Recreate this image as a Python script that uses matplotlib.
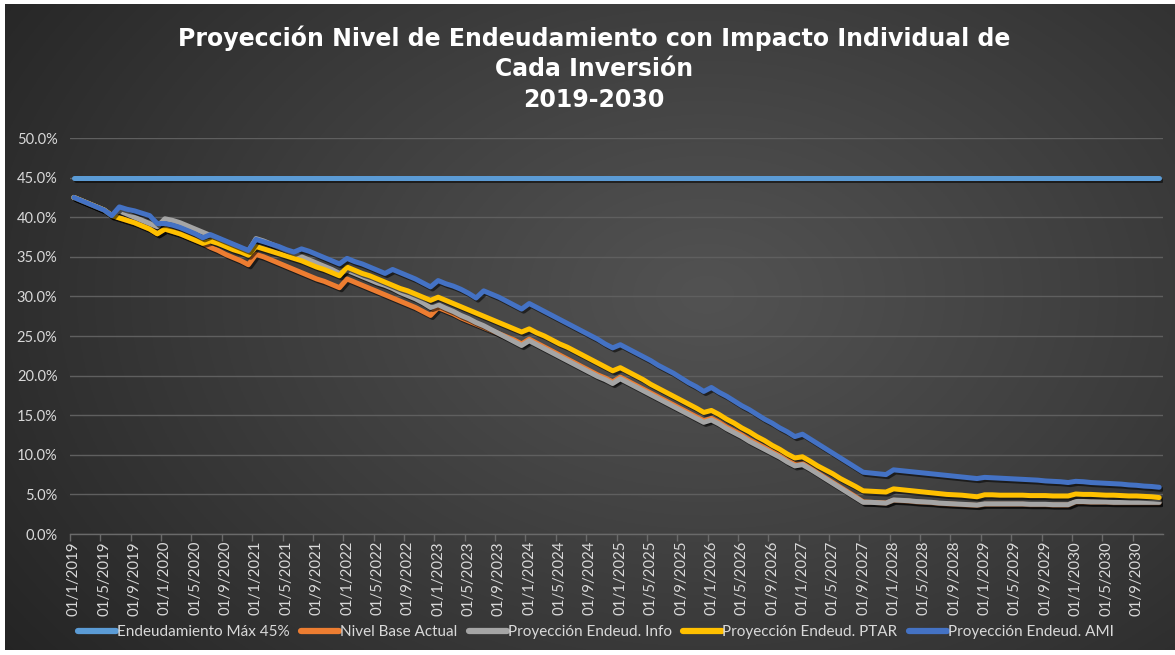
import numpy as np
import matplotlib
matplotlib.use("Agg")
import matplotlib.pyplot as plt
import matplotlib.patheffects as pe
from matplotlib.ticker import FuncFormatter, FixedLocator

# ---------------- data ----------------
years = list(range(2019, 2031))
months = list(range(1, 13))
fechas = [f"01/{m}/{y}" for y in years for m in months]

maximo = [45.0] * 144

nivel_base = [
    42.5, 42.1, 41.7, 41.3, 40.9, 40.2, 39.9, 39.6, 39.3, 38.9, 38.5, 37.9,
    38.5, 38.2, 37.9, 37.5, 37.1, 36.7, 36.2, 35.8, 35.3, 34.9, 34.5, 34.0,
    35.3, 35.0, 34.6, 34.2, 33.8, 33.4, 33.0, 32.6, 32.2, 31.9, 31.5, 31.1,
    32.2, 31.8, 31.4, 31.0, 30.6, 30.2, 29.8, 29.4, 29.0, 28.6, 28.1, 27.6,
    28.6, 28.2, 27.8, 27.3, 26.9, 26.5, 26.1, 25.7, 25.3, 24.9, 24.5, 24.0,
    24.6, 24.1, 23.6, 23.1, 22.6, 22.1, 21.6, 21.1, 20.6, 20.1, 19.7, 19.2,
    19.8, 19.3, 18.8, 18.3, 17.8, 17.3, 16.8, 16.3, 15.8, 15.3, 14.8, 14.3,
    14.6, 14.1, 13.5, 13.0, 12.5, 11.9, 11.4, 10.9, 10.4, 9.9, 9.3, 8.8,
    8.9, 8.3, 7.7, 7.1, 6.5, 5.9, 5.3, 4.7, 4.05, 4.0, 3.95, 3.9,
    4.25, 4.2, 4.15, 4.05, 4.0, 3.95, 3.85, 3.8, 3.75, 3.7, 3.65, 3.6,
    3.75, 3.75, 3.75, 3.75, 3.75, 3.75, 3.7, 3.7, 3.7, 3.65, 3.65, 3.65,
    4.05, 4.05, 4.0, 4.0, 4.0, 3.95, 3.95, 3.95, 3.95, 3.95, 3.95, 3.95,
]

info = [
    42.5, 42.1, 41.7, 41.3, 40.9, 40.2, 40.8, 40.4, 40.0, 39.6, 39.2, 38.8,
    39.8, 39.6, 39.3, 38.9, 38.5, 38.1, 37.7, 37.3, 36.9, 36.5, 36.1, 35.7,
    37.3, 37.0, 36.6, 36.2, 35.8, 35.4, 35.0, 34.6, 34.2, 33.8, 33.4, 32.9,
    33.3, 32.9, 32.5, 32.1, 31.7, 31.4, 31.0, 30.5, 30.1, 29.7, 29.2, 28.6,
    28.95, 28.5, 28.1, 27.6, 27.2, 26.7, 26.3, 25.8, 25.3, 24.8, 24.3, 23.8,
    24.4, 23.9, 23.4, 22.9, 22.4, 21.9, 21.4, 20.9, 20.4, 19.9, 19.5, 19.0,
    19.6, 19.1, 18.6, 18.1, 17.6, 17.1, 16.6, 16.1, 15.6, 15.1, 14.6, 14.1,
    14.4, 13.9, 13.3, 12.8, 12.3, 11.7, 11.2, 10.7, 10.2, 9.7, 9.1, 8.6,
    8.75, 8.2, 7.6, 7.0, 6.4, 5.8, 5.2, 4.6, 4.0, 4.0, 3.95, 3.9,
    4.3, 4.25, 4.2, 4.1, 4.05, 4.0, 3.9, 3.85, 3.8, 3.75, 3.7, 3.65,
    3.8, 3.8, 3.8, 3.8, 3.8, 3.8, 3.75, 3.75, 3.75, 3.7, 3.7, 3.7,
    4.1, 4.1, 4.05, 4.05, 4.05, 4.0, 4.0, 4.0, 4.0, 4.0, 4.0, 4.0,
]

ptar = [
    42.5, 42.1, 41.7, 41.3, 40.9, 40.2, 39.9, 39.6, 39.3, 38.9, 38.5, 37.9,
    38.5, 38.2, 37.9, 37.5, 37.1, 36.7, 37.0, 36.7, 36.3, 35.9, 35.6, 35.2,
    36.3, 36.0, 35.7, 35.4, 35.1, 34.8, 34.5, 34.1, 33.7, 33.4, 33.0, 32.6,
    33.7, 33.3, 32.9, 32.6, 32.2, 31.8, 31.4, 31.0, 30.7, 30.3, 29.9, 29.5,
    29.9, 29.5, 29.1, 28.7, 28.3, 27.9, 27.5, 27.1, 26.7, 26.3, 25.9, 25.5,
    25.9, 25.4, 25.0, 24.5, 24.0, 23.6, 23.1, 22.6, 22.1, 21.6, 21.1, 20.6,
    21.0, 20.5, 20.0, 19.5, 18.9, 18.4, 17.9, 17.4, 16.9, 16.4, 15.9, 15.35,
    15.6, 15.1, 14.5, 14.0, 13.4, 12.9, 12.3, 11.8, 11.2, 10.7, 10.1, 9.6,
    9.75, 9.2, 8.6, 8.1, 7.6, 7.0, 6.5, 6.0, 5.45, 5.4, 5.35, 5.3,
    5.7, 5.6, 5.5, 5.4, 5.3, 5.2, 5.1, 5.0, 4.95, 4.9, 4.8, 4.7,
    4.95, 4.95, 4.9, 4.9, 4.9, 4.9, 4.85, 4.85, 4.85, 4.8, 4.8, 4.8,
    5.05, 5.0, 5.0, 4.95, 4.9, 4.9, 4.85, 4.8, 4.8, 4.75, 4.7, 4.6,
]

ami = [
    42.5, 42.1, 41.7, 41.3, 40.9, 40.2, 41.3, 41.0, 40.8, 40.5, 40.2, 39.2,
    39.2, 39.0, 38.7, 38.3, 37.9, 37.4, 37.8, 37.4, 37.0, 36.6, 36.2, 35.8,
    37.2, 36.9, 36.6, 36.3, 35.9, 35.6, 36.0, 35.7, 35.3, 34.9, 34.5, 34.1,
    34.8, 34.4, 34.1, 33.7, 33.3, 32.9, 33.4, 33.0, 32.6, 32.2, 31.7, 31.2,
    32.0, 31.6, 31.3, 30.9, 30.4, 29.8, 30.7, 30.3, 29.9, 29.4, 28.9, 28.4,
    29.1, 28.6, 28.1, 27.6, 27.1, 26.6, 26.1, 25.6, 25.1, 24.6, 24.0, 23.5,
    23.9, 23.4, 22.9, 22.4, 21.9, 21.3, 20.8, 20.3, 19.7, 19.1, 18.6, 18.0,
    18.5, 17.9, 17.4, 16.8, 16.2, 15.7, 15.1, 14.5, 14.0, 13.4, 12.9, 12.3,
    12.6, 12.0, 11.4, 10.8, 10.2, 9.6, 9.0, 8.4, 7.8, 7.7, 7.6, 7.5,
    8.1, 8.0, 7.9, 7.8, 7.7, 7.6, 7.5, 7.4, 7.3, 7.2, 7.1, 7.0,
    7.15, 7.1, 7.05, 7.0, 6.95, 6.9, 6.85, 6.8, 6.7, 6.65, 6.6, 6.5,
    6.65, 6.6, 6.5, 6.45, 6.4, 6.35, 6.3, 6.2, 6.15, 6.05, 6.0, 5.9,
]

series_names = ["Endeudamiento Máx 45%", "Nivel Base Actual", "Proyección Endeud. Info",
                "Proyección Endeud. PTAR", "Proyección Endeud. AMI"]
series_colors = ["#5B9BD5", "#ED7D31", "#A5A5A5", "#FFC000", "#4472C4"]
series_values = [maximo, nivel_base, info, ptar, ami]

title_lines = ["Proyección Nivel de Endeudamiento con Impacto Individual de",
               "Cada Inversión", "2019-2030"]
y_ticks = [0, 5, 10, 15, 20, 25, 30, 35, 40, 45, 50]

# ---------------- figure ----------------
plt.rcParams['font.family'] = ['Lato', 'DejaVu Sans']
W, H = 1175, 655
fig = plt.figure(figsize=(W / 100, H / 100), dpi=100)
fig.patch.set_facecolor('white')

# radial gradient background (inside a thin white frame)
L, B, T, R = 5, 5, 4, 0
bg = fig.add_axes([L / W, B / H, (W - L - R) / W, (H - B - T) / H], zorder=-10)
gx = np.linspace(0, 1, 600)
gy = np.linspace(0, 1, 340)
GX, GY = np.meshgrid(gx, gy)
d = np.sqrt(((GX - 0.60) / 0.75) ** 2 + ((GY - 0.45) / 0.95) ** 2)
d = np.clip(d, 0, 1)
light = 0x52 / 255
dark = 0x24 / 255
val = light - (light - dark) * d ** 1.1
img = np.dstack([val, val, val])
bg.imshow(img, extent=[0, 1, 0, 1], aspect='auto', origin='upper')
bg.set_xlim(0, 1)
bg.set_ylim(0, 1)
bg.axis('off')

ax = fig.add_axes([70 / W, 1 - 534 / H, (1163 - 70) / W, (534 - 138) / H])
ax.set_facecolor('none')

x = np.arange(len(fechas))
shadow = [pe.SimpleLineShadow(offset=(1.5, -1.5), shadow_color='black', alpha=0.55),
          pe.Normal()]
for name, col, vals in zip(series_names, series_colors, series_values):
    ax.plot(x, vals, color=col, lw=3.6, label=name, solid_capstyle='round',
            solid_joinstyle='round', path_effects=shadow, zorder=3)

ax.set_xlim(-0.5, len(fechas) - 0.5)
ax.set_ylim(0, 50)
ax.set_yticks(y_ticks)
ax.yaxis.set_major_formatter(FuncFormatter(lambda v, p: f"{v:.1f}%"))
ax.grid(axis='y', color='#5f5f5f', lw=1.0, zorder=0)
ax.set_axisbelow(True)

lab_idx = list(range(0, len(fechas), 4))
ax.set_xticks(lab_idx)
ax.set_xticklabels([fechas[i] for i in lab_idx], rotation=90)
ax.xaxis.set_minor_locator(FixedLocator([i - 0.5 for i in lab_idx]))
ax.tick_params(axis='x', which='major', length=0, pad=5, labelsize=10.8, labelcolor='#d9d9d9')
ax.tick_params(axis='x', which='minor', length=5, color='#6a6a6a', width=1)
ax.tick_params(axis='y', length=0, pad=9, labelsize=10.5, labelcolor='#d9d9d9')
for s in ['top', 'right', 'left']:
    ax.spines[s].set_visible(False)
ax.spines['bottom'].set_color('#6a6a6a')
ax.spines['bottom'].set_linewidth(1.0)

# title
for i, t in enumerate(title_lines):
    fig.text(594 / W, 1 - (38 + 31 * i) / H, t, ha='center', va='center',
             color='white', fontsize=17, fontweight='bold', family=['DejaVu Sans'])

leg = fig.legend(loc='center', bbox_to_anchor=(596 / W, 1 - 632 / H), ncol=5,
                 frameon=False, fontsize=11, handlelength=2.5, handletextpad=0.05,
                 columnspacing=0.75, labelcolor='#d9d9d9')
for ln in leg.get_lines():
    ln.set_linewidth(4.5)
    ln.set_path_effects([])

fig.savefig('out.png', dpi=100, facecolor='white')
